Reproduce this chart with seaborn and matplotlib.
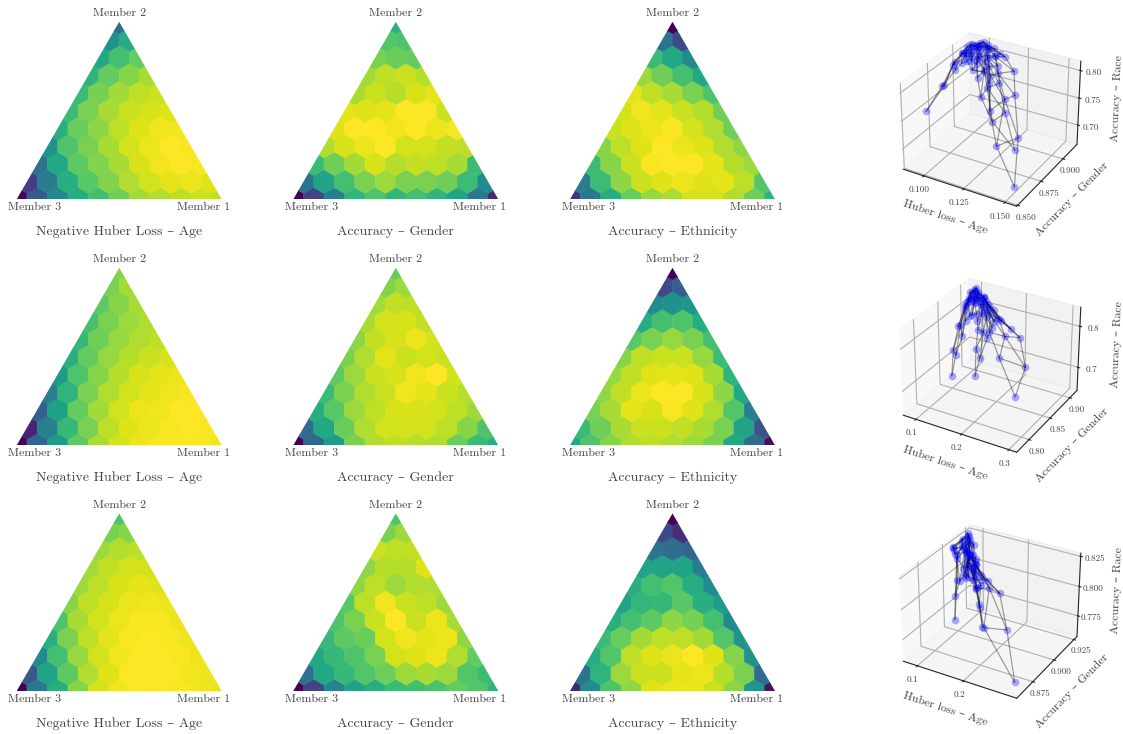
import numpy as np
import seaborn as sns
import matplotlib
matplotlib.use('Agg')
import matplotlib.pyplot as plt
from matplotlib.collections import PolyCollection
from matplotlib.patches import Polygon

sns.set_style('white')
plt.rcParams['font.family'] = ['cmr10', 'DejaVu Serif']
plt.rcParams['axes.formatter.use_mathtext'] = True
plt.rcParams['axes.unicode_minus'] = False

W, H = 1123, 734
TEXT = '#444444'

age_1 = [[0, .28, .47, .62, .7, .78, .86, .88, .9, .92, .9],
         [.18, .42, .63, .74, .81, .88, .93, .96, .97, .95],
         [.38, .6, .75, .81, .87, .94, .98, 1, .99],
         [.5, .72, .8, .87, .93, .97, 1, .99],
         [.63, .77, .83, .9, .95, .98, .98],
         [.68, .8, .87, .92, .94, .95],
         [.68, .79, .86, .9, .92],
         [.65, .76, .82, .87],
         [.6, .7, .76],
         [.5, .62],
         [.35]]
gender_1 = [[0, .2, .42, .66, .72, .66, .7, .65, .58, .4, .12],
            [.38, .58, .7, .8, .85, .8, .8, .78, .68, .48],
            [.68, .78, .86, .94, .89, .91, .9, .87, .68],
            [.88, .94, .97, 1, .93, .93, .91, .9],
            [.95, 1, 1, .98, 1, .97, .99],
            [.96, .95, .96, 1, 1, .92],
            [.87, .92, .89, .94, .96],
            [.86, .9, .92, .89],
            [.8, .77, .76],
            [.73, .72],
            [.64]]
ethnicity_1 = [[.15, .4, .62, .76, .84, .87, .93, .93, .88, .78, .65],
               [.42, .68, .83, .92, .95, .97, .95, .96, .9, .73],
               [.68, .82, .92, .99, 1, 1, .96, .89, .85],
               [.82, .9, .95, 1, .97, .95, .88, .83],
               [.92, .95, .97, .99, .93, .88, .78],
               [.93, .98, .96, .92, .89, .78],
               [.96, .9, .87, .8, .72],
               [.85, .78, .7, .6],
               [.68, .6, .47],
               [.38, .22],
               [0]]
age_2 = [[0, .33, .55, .75, .87, .93, .97, .99, .99, .99, .98],
         [.1, .43, .67, .8, .9, .95, .97, .99, 1, .99],
         [.3, .57, .76, .86, .93, .97, .98, 1, 1],
         [.42, .65, .8, .88, .93, .96, .98, .99],
         [.55, .72, .82, .89, .94, .96, .97],
         [.63, .76, .84, .89, .92, .94],
         [.67, .78, .84, .88, .9],
         [.71, .8, .85, .88],
         [.75, .82, .87],
         [.8, .86],
         [.82]]
gender_2 = [[0, .33, .55, .8, .88, .9, .89, .88, .77, .68, .63],
            [.35, .6, .77, .88, .93, .93, .93, .9, .82, .72],
            [.62, .74, .85, .9, .94, .94, .93, .9, .85],
            [.68, .8, .88, .92, .98, .96, .92, .89],
            [.75, .85, .92, .94, .98, 1, .93],
            [.8, .88, .96, .92, .93, .92],
            [.83, .91, .94, .97, .93],
            [.87, .93, .94, .91],
            [.86, .91, .9],
            [.81, .85],
            [.76]]
ethnicity_2 = [[.6, .72, .82, .88, .9, .88, .85, .8, .6, .35, .03],
               [.68, .78, .87, .92, .92, .91, .87, .8, .58, .25],
               [.8, .87, .96, .94, .99, .95, .88, .73, .42],
               [.83, .91, .97, 1, 1, .94, .83, .6],
               [.84, .9, .95, .96, .95, .87, .65],
               [.82, .9, .92, .92, .84, .68],
               [.74, .8, .84, .8, .7],
               [.62, .7, .72, .62],
               [.48, .5, .52],
               [.22, .3],
               [0]]
age_3 = [[0, .4, .62, .82, .93, .98, 1, 1, .99, .98, .96],
         [.28, .58, .75, .88, .95, 1, 1, 1, .98, .97],
         [.48, .7, .84, .93, .98, 1, 1, .99, .97],
         [.63, .8, .9, .96, .99, 1, .99, .97],
         [.72, .87, .93, .97, .99, .99, .97],
         [.82, .9, .94, .97, .98, .97],
         [.85, .9, .94, .96, .95],
         [.86, .91, .93, .93],
         [.85, .88, .9],
         [.8, .82],
         [.72]]
gender_3 = [[0, .2, .45, .58, .62, .68, .7, .72, .76, .73, .65],
            [.37, .6, .67, .73, .78, .85, .87, .85, .73, .68],
            [.6, .67, .72, .8, .93, .95, .97, .88, .76],
            [.67, .75, .77, .93, .98, .96, .97, .83],
            [.72, .8, .92, 1, .92, .97, .87],
            [.74, .9, .98, .92, .9, .85],
            [.83, .9, .85, .88, .88],
            [.83, .89, .89, .95],
            [.92, .9, .91],
            [.8, .85],
            [.72]]
ethnicity_3 = [[.1, .48, .72, .83, .95, .97, .97, .92, .83, .52, .05],
               [.38, .65, .85, .92, .92, .96, .97, .89, .8, .35],
               [.62, .73, .9, .95, .97, 1, .95, .82, .5],
               [.68, .77, .86, .9, .9, .86, .73, .52],
               [.63, .7, .75, .83, .79, .7, .47],
               [.58, .66, .67, .74, .63, .55],
               [.63, .7, .73, .62, .48],
               [.58, .58, .58, .42],
               [.38, .36, .33],
               [.22, .13],
               [0]]

panels = [[age_1, gender_1, ethnicity_1],
          [age_2, gender_2, ethnicity_2],
          [age_3, gender_3, ethnicity_3]]
titles = ['Negative Huber Loss – Age', 'Accuracy – Gender', 'Accuracy – Ethnicity']

# metric ranges (worst, best) of the three objectives
huber_range = [(.1541, .0895), (.306, .081), (.30, .078)]
gender_range = [(.8515, .9145), (.778, .913), (.86, .926)]
race_range = [(.669, .811), (.65, .837), (.76, .825)]

# axis limits and ticks of the 3d plots
huber_lim = [(.0867, .157), (.0714, .316), (.0685, .31)]
gender_lim = [(.849, .917), (.772, .919), (.857, .929)]
race_lim = [(.663, .817), (.642, .8456), (.757, .8277)]
huber_ticks = [['0.100', '0.125', '0.150'], ['0.1', '0.2', '0.3'], ['0.1', '0.2']]
gender_ticks = [['0.850', '0.875', '0.900'], ['0.80', '0.85', '0.90'], ['0.875', '0.900', '0.925']]
race_ticks = [['0.70', '0.75', '0.80'], ['0.7', '0.8'], ['0.775', '0.800', '0.825']]

col_left = [16.7, 293.3, 570]
row_base = [199.3, 445.3, 691]
SIDE = 205.0
HEIGHT = SIDE * np.sqrt(3) / 2
SCALE = 10
cmap = sns.color_palette('viridis', as_cmap=True)
R3 = np.sqrt(3) / 2


def label(x, y, s, size):
    fig.text(x / W, 1 - y / H, s, ha='center', va='center', fontsize=size, color=TEXT)


def hexagon(cx, cy):
    r = 1 / np.sqrt(3)
    ang = np.deg2rad(np.arange(30, 390, 60))
    return np.column_stack([cx + r * np.cos(ang), cy + r * np.sin(ang)])


fig = plt.figure(figsize=(W / 100, H / 100), dpi=100)

for r in range(3):
    for c in range(3):
        ax = fig.add_axes([col_left[c] / W, 1 - row_base[r] / H, SIDE / W, HEIGHT / H])
        ax.set_xlim(0, SCALE)
        ax.set_ylim(0, SCALE * R3)
        ax.axis('off')
        polys, vals = [], []
        for j, row in enumerate(panels[r][c]):
            for i, v in enumerate(row):
                polys.append(hexagon(i + j / 2, j * R3))
                vals.append(v)
        pc = PolyCollection(polys, array=np.array(vals), cmap=cmap, norm=plt.Normalize(0, 1),
                            edgecolors='face', linewidths=0.4)
        ax.add_collection(pc)
        tri = Polygon([[0, 0], [SCALE, 0], [SCALE / 2, SCALE * R3]], transform=ax.transData,
                      fc='none', ec='none')
        ax.add_patch(tri)
        pc.set_clip_path(tri)

        left = col_left[c]
        base = row_base[r]
        label(left + SIDE / 2, base - HEIGHT - 8.5, 'Member 2', 8.6)
        label(left + 18.3, base + 8.2, 'Member 3', 8.6)
        label(left + SIDE - 18.3, base + 8.2, 'Member 1', 8.6)
        label(left + SIDE / 2, base + 32.5, titles[c], 10)

# 3d fronts, one point per hexagon, edges between neighbouring grid points
for r in range(3):
    top = [17, 263, 509][r]
    ax = fig.add_axes([884 / W, 1 - (top + 202) / H, 210 / W, 202 / H], projection='3d',
                      computed_zorder=False)
    ax.patch.set_alpha(0)
    to_metric = lambda rows, rng: [[rng[0] + v * (rng[1] - rng[0]) for v in row] for row in rows]
    xs = to_metric(panels[r][0], huber_range[r])
    ys = to_metric(panels[r][1], gender_range[r])
    zs = to_metric(panels[r][2], race_range[r])
    for j in range(SCALE + 1):
        for i in range(SCALE + 1 - j):
            for di, dj in [(1, 0), (0, 1), (-1, 1)]:
                a, b = i + di, j + dj
                if b <= SCALE and 0 <= a <= SCALE - b:
                    ax.plot([xs[j][i], xs[b][a]], [ys[j][i], ys[b][a]], [zs[j][i], zs[b][a]],
                            color='k', alpha=0.38, lw=0.85, zorder=2)
    ax.scatter(sum(xs, []), sum(ys, []), sum(zs, []), color='blue', alpha=0.33, s=30,
               depthshade=False, linewidths=0, zorder=3)
    ax.set_xlim(*huber_lim[r])
    ax.set_ylim(*gender_lim[r])
    ax.set_zlim(*race_lim[r])
    ax.set_xticks([float(t) for t in huber_ticks[r]], huber_ticks[r])
    ax.set_yticks([float(t) for t in gender_ticks[r]], gender_ticks[r])
    ax.set_zticks([float(t) for t in race_ticks[r]], race_ticks[r])
    ax.tick_params(axis='x', labelsize=6.6, labelcolor=TEXT, pad=-3)
    ax.tick_params(axis='y', labelsize=6.6, labelcolor=TEXT, pad=-3)
    ax.tick_params(axis='z', labelsize=6.6, labelcolor=TEXT, pad=-2)
    ax.set_xlabel('Huber loss – Age', fontsize=8.5, color=TEXT, labelpad=-6)
    ax.set_ylabel('Accuracy – Gender', fontsize=8.5, color=TEXT, labelpad=-5)
    ax.set_zlabel('Accuracy – Race', fontsize=8.5, color=TEXT, labelpad=-4)
    ax.grid(True)
    for axis in (ax.xaxis, ax.yaxis, ax.zaxis):
        axis._axinfo['grid']['color'] = '#b0b0b0'
        axis._axinfo['grid']['linewidth'] = 0.8

fig.savefig('out.png', dpi=100)
